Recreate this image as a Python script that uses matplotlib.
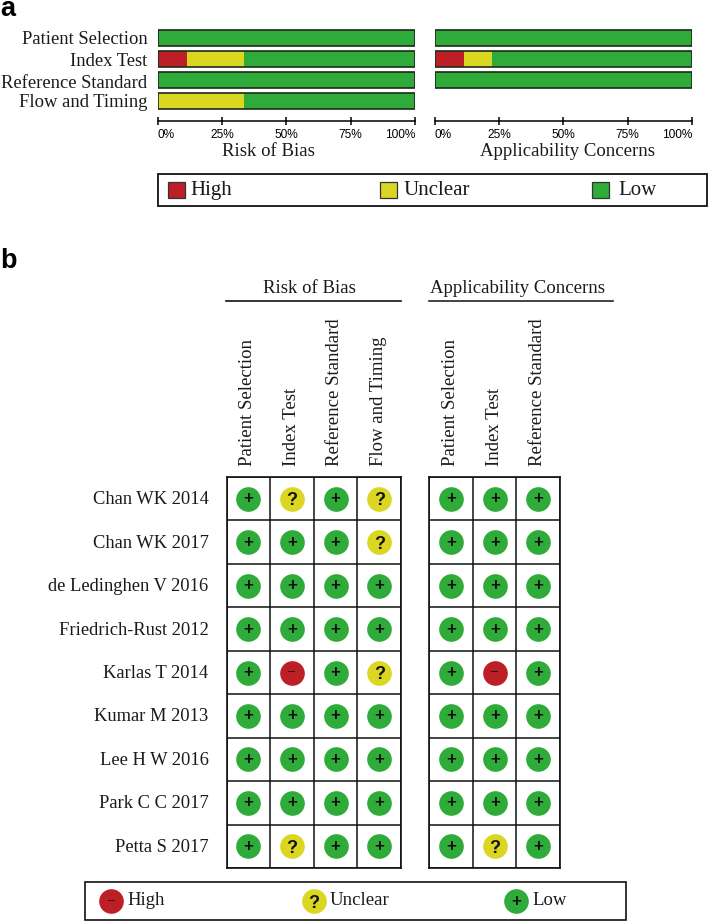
import matplotlib
matplotlib.use('Agg')
import matplotlib.pyplot as plt
from matplotlib.patches import Rectangle

W, H = 709, 922
SERIF = 'Liberation Serif'
SANS = 'Liberation Sans'
INK = '#1a1a1a'

RED = '#BC2026'
YELLOW = '#DAD621'
GREEN = '#2EAB38'

# summary percentages
domains = ['Patient Selection', 'Index Test', 'Reference Standard', 'Flow and Timing']
bias_high = [0, 11.5, 0, 0]
bias_unclear = [0, 22, 0, 33.5]
bias_low = [100, 66.5, 100, 66.5]
appl_domains = ['Patient Selection', 'Index Test', 'Reference Standard']
appl_high = [0, 11.5, 0]
appl_unclear = [0, 11, 0]
appl_low = [100, 77.5, 100]
pct_ticks = [0, 25, 50, 75, 100]

# per study judgements
studies = ['Chan WK 2014', 'Chan WK 2017', 'de Ledinghen V 2016', 'Friedrich-Rust 2012',
           'Karlas T 2014', 'Kumar M 2013', 'Lee H W 2016', 'Park C C 2017', 'Petta S 2017']
bias_marks = ['+?+?', '+++?', '++++', '++++', '+-+?', '++++', '++++', '++++', '+?++']
appl_marks = ['+++', '+++', '+++', '+++', '+-+', '+++', '+++', '+++', '+?+']

levels = ['High', 'Unclear', 'Low']
colors = {'-': RED, '?': YELLOW, '+': GREEN}
glyphs = {'-': '\u2013', '?': '?', '+': '+'}
glyph_size = {'-': 9, '?': 13, '+': 12}
glyph_va = {'-': 'center', '?': 'center_baseline', '+': 'center'}


def px_axes(x0, y0, x1, y1):
    # axes placed by pixel box, y measured from the top of the image
    return fig.add_axes([x0 / W, 1 - y1 / H, (x1 - x0) / W, (y1 - y0) / H])


def stacked(ax, high, unclear, low):
    ys = list(range(len(high)))
    left2 = [a + b for a, b in zip(high, unclear)]
    for vals, lefts, c in [(high, [0] * len(ys), RED), (unclear, high, YELLOW), (low, left2, GREEN)]:
        ax.barh(ys, vals, left=lefts, height=0.76, color=c, linewidth=0)
    for y in ys:
        ax.add_patch(Rectangle((0, y - 0.38), 100, 0.76, fill=False, ec='#1c2a1c', lw=1.2, zorder=5))
    ax.set_xlim(0, 100)
    ax.set_ylim(3.5, -0.5)
    ax.set_yticks([])
    for s in ['left', 'right', 'top']:
        ax.spines[s].set_visible(False)
    ax.patch.set_alpha(0)
    ax.spines['bottom'].set_position(('outward', 7))
    ax.spines['bottom'].set_linewidth(1.1)
    ax.set_xticks(pct_ticks)
    ax.set_xticklabels([f'{t}%' for t in pct_ticks], fontsize=8.6, family=SANS)
    ax.tick_params(axis='x', direction='inout', length=5.8, width=1.1, pad=3)
    labs = ax.get_xticklabels()
    labs[0].set_ha('left')
    labs[-1].set_ha('right')


def draw_mark(ax, x, y, m):
    ax.scatter(x, y, s=315, color=colors[m], linewidth=0, zorder=3)
    ax.text(x, y, glyphs[m], ha='center', va=glyph_va[m], family=SANS,
            fontsize=glyph_size[m], fontweight='bold' if m != '-' else 'normal',
            color='#111111', zorder=4)


def matrix(ax, marks, names):
    nrow, ncol = len(marks), len(names)
    ax.set_xlim(0, ncol)
    ax.set_ylim(nrow, 0)
    ax.set_xticks(range(ncol + 1))
    ax.set_yticks(range(nrow + 1))
    ax.grid(True, color='#111111', lw=1.1)
    ax.tick_params(length=0, labelbottom=False, labelleft=False)
    for s in ax.spines.values():
        s.set_linewidth(1.2)
        s.set_color('#111111')
    for r, row in enumerate(marks):
        for c, m in enumerate(row):
            draw_mark(ax, c + 0.5, r + 0.5, m)
    for c, name in enumerate(names):
        ax.annotate(name, (c + 0.5, 0), xytext=(-0.5, 8), textcoords='offset points', rotation=90,
                    ha='center', va='bottom', family=SERIF, fontsize=13.5, color=INK)


fig = plt.figure(figsize=(W / 100, H / 100), dpi=100, facecolor='white')

# panel a
ax1 = px_axes(157.5, 28, 415, 111)
stacked(ax1, bias_high, bias_unclear, bias_low)
ax2 = px_axes(434.5, 28, 692, 111)
stacked(ax2, appl_high, appl_unclear, appl_low)

# panel b
ax3 = px_axes(226.5, 477, 401, 868)
matrix(ax3, bias_marks, domains)
ax4 = px_axes(429.5, 477, 560, 868)
matrix(ax4, appl_marks, appl_domains)

# overlay in image pixels for headings and legends
ov = fig.add_axes([0, 0, 1, 1], zorder=10)
ov.set_xlim(0, W)
ov.set_ylim(H, 0)
ov.axis('off')

ov.text(0.5, 16, 'a', family=SANS, fontweight='bold', fontsize=19.5, va='baseline', ha='left')
ov.text(0.5, 268, 'b', family=SANS, fontweight='bold', fontsize=19.5, va='baseline', ha='left')

for y, name in zip([39, 61.5, 83, 102.5], domains):
    ov.text(147.5, y, name, family=SERIF, fontsize=13.4, ha='right', va='center', color=INK)
ov.text(268, 152, 'Risk of Bias', family=SERIF, fontsize=13.5, ha='center', va='center', color=INK)
ov.text(567, 152, 'Applicability Concerns', family=SERIF, fontsize=13.5, ha='center', va='center', color=INK)

ov.add_patch(Rectangle((158, 174.5), 549, 31.5, fill=False, ec='#111111', lw=1.3))
for x, tx, lev, c in zip([167.5, 380, 592], [190, 404, 618], levels, [RED, YELLOW, GREEN]):
    ov.add_patch(Rectangle((x, 182), 17, 16, fc=c, ec='#333333', lw=0.9))
    ov.text(tx, 190.5, lev, family=SERIF, fontsize=15, ha='left', va='center', color=INK)

ov.text(309, 288, 'Risk of Bias', family=SERIF, fontsize=13.5, ha='center', va='center', color=INK)
ov.text(517, 288, 'Applicability Concerns', family=SERIF, fontsize=13.5, ha='center', va='center', color=INK)
ov.plot([226, 401], [300.7, 300.7], color='#111111', lw=1.2)
ov.plot([429, 613], [300.7, 300.7], color='#222222', lw=1.2)

for i, name in enumerate(studies):
    ov.text(208.5, 478 + 43.45 * (i + 0.5), name, family=SERIF, fontsize=13.3, ha='right', va='center', color=INK)

ov.add_patch(Rectangle((85, 882), 541, 38, fill=False, ec='#111111', lw=1.2))
for x, lev, m in zip([111, 313.5, 516], levels, ['-', '?', '+']):
    draw_mark(ov, x, 901, m)
    ov.text(x + 16, 900, lev, family=SERIF, fontsize=13.5, ha='left', va='center', color=INK)

fig.savefig('out.png', dpi=100)
